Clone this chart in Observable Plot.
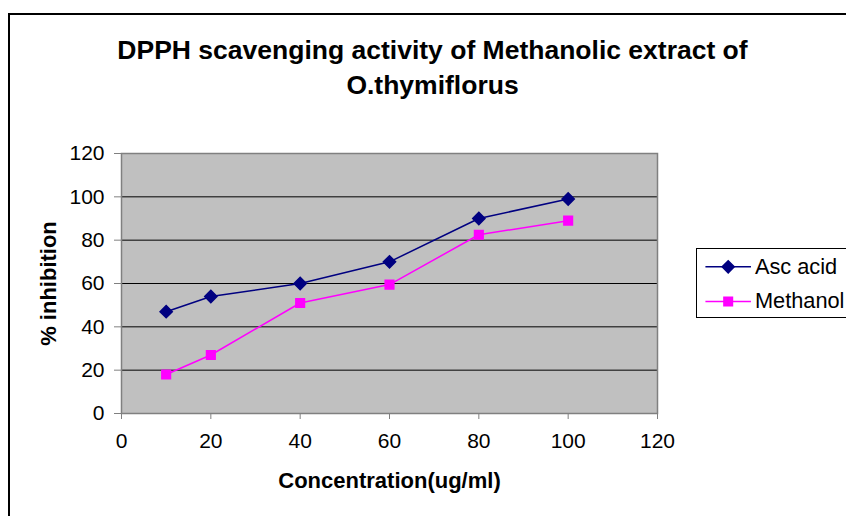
<!DOCTYPE html>
<html>
<head>
<meta charset="utf-8">
<script src="https://cdn.jsdelivr.net/npm/d3@7"></script>
<script src="https://cdn.jsdelivr.net/npm/@observablehq/plot@0.6"></script>
<style>
  html, body { margin: 0; padding: 0; background: #fff; }
  #wrap { position: relative; width: 846px; height: 516px; overflow: hidden; }
  #border { position: absolute; left: 8px; top: 13px; width: 900px; height: 600px; border: 2px solid #000; box-sizing: border-box; }
  #legend { position: absolute; left: 696px; top: 248px; width: 200px; height: 70px; border: 1px solid #000; box-sizing: border-box; background: #fff; }
</style>
</head>
<body>
<div id="wrap"><div id="border"></div><div id="chart"></div><div id="legend"></div></div>
<script>
const concentrations = [10, 20, 40, 60, 80, 100];
const ascAcid = [47, 54, 60, 70, 90, 99];
const methanol = [18, 27, 51, 59.5, 82.5, 89];
const seriesNames = ["Asc acid", "Methanol"];
const seriesColors = ["#000080", "#FF00FF"];
const seriesSymbols = ["diamond2", "square2"];
const xTicks = [0, 20, 40, 60, 80, 100, 120];
const yTicks = [0, 20, 40, 60, 80, 100, 120];
const titleText = "DPPH scavenging activity of Methanolic extract of\nO.thymiflorus";
const xLabel = "Concentration(ug/ml)";
const yLabel = "% inhibition";

const data = [
  ...concentrations.map((c, i) => ({series: seriesNames[0], x: c, y: ascAcid[i]})),
  ...concentrations.map((c, i) => ({series: seriesNames[1], x: c, y: methanol[i]}))
];

const font = "'Liberation Sans', Arial, sans-serif";

const chart = Plot.plot({
  width: 846,
  height: 516,
  marginLeft: 121,
  marginRight: 189,
  marginTop: 153,
  marginBottom: 103,
  style: {fontFamily: font, fontSize: "21px", background: "transparent", color: "#000", overflow: "visible"},
  x: {domain: [0, 120], ticks: xTicks},
  y: {domain: [0, 120], ticks: yTicks},
  color: {domain: seriesNames, range: seriesColors},
  symbol: {domain: seriesNames, range: seriesSymbols},
  marks: [
    Plot.frame({fill: "#C0C0C0", stroke: null}),
    Plot.gridY(yTicks.slice(1, -1), {stroke: "#000", strokeOpacity: 1, strokeWidth: 1}),
    Plot.frame({stroke: "#808080", strokeWidth: 1.5}),
    Plot.axisX({ticks: xTicks, tickSize: 6, tickPadding: 14, stroke: "#808080", label: null, fontSize: 21, fill: "#000"}),
    Plot.axisY({ticks: yTicks, tickSize: 7, tickPadding: 10, stroke: "#808080", label: null, fontSize: 21, fill: "#000"}),
    Plot.line(data, {x: "x", y: "y", z: "series", stroke: "series", strokeWidth: 1.5}),
    Plot.dot(data, {x: "x", y: "y", symbol: "series", fill: "series", stroke: "series", r: 5.5}),
    Plot.text([titleText], {frameAnchor: "top", dx: 43, dy: -119, fontSize: 26.5, fontWeight: "bold", lineHeight: 1.32, lineAnchor: "top", fill: "#000"}),
    Plot.text([xLabel], {frameAnchor: "bottom", dy: 74, fontSize: 22, fontWeight: "bold", fill: "#000"}),
    Plot.text([yLabel], {frameAnchor: "left", textAnchor: "middle", dx: -73, rotate: -90, fontSize: 22, fontWeight: "bold", fill: "#000"})
  ]
});
chart.style.position = "absolute";
chart.style.left = "0px";
chart.style.top = "0px";
document.getElementById("chart").appendChild(chart);

// Legend drawn with Plot as well
const legendData = seriesNames.map((s, i) => ({series: s, row: i}));
const legend = Plot.plot({
  width: 200, height: 70,
  margin: 0,
  x: {domain: [0, 200], axis: null},
  y: {domain: [-0.5, 1.5], axis: null},
  color: {domain: seriesNames, range: seriesColors},
  symbol: {domain: seriesNames, range: seriesSymbols},
  style: {fontFamily: font, fontSize: "22px", background: "transparent", color: "#000"},
  marks: [
    Plot.link(legendData, {x1: 8, x2: 54, y1: d => 1 - d.row, y2: d => 1 - d.row, stroke: "series", strokeWidth: 1.5}),
    Plot.dot(legendData, {x: 31, y: d => 1 - d.row, symbol: "series", fill: "series", stroke: "series", r: 5.5}),
    Plot.text(legendData, {x: 58, y: d => 1 - d.row, text: "series", textAnchor: "start", fontSize: 22, fill: "#000"})
  ]
});
document.getElementById("legend").appendChild(legend);
</script>
</body>
</html>
